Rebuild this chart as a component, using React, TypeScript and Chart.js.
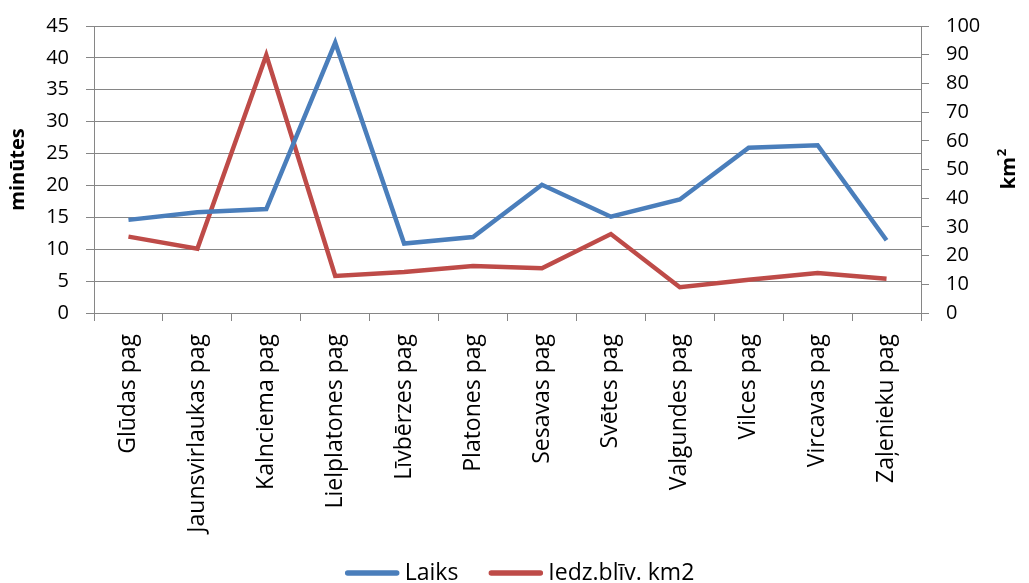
import React, { useEffect, useRef } from "react";
import { Chart, registerables } from "chart.js";

Chart.register(...registerables);

const categories = [
  "Glūdas pag",
  "Jaunsvirlaukas pag",
  "Kalnciema pag",
  "Lielplatones pag",
  "Līvbērzes pag",
  "Platones pag",
  "Sesavas pag",
  "Svētes pag",
  "Valgundes pag",
  "Vilces pag",
  "Vircavas pag",
  "Zaļenieku pag",
];

// travel time, minutes (left axis)
const laiks = [14.6, 15.8, 16.3, 42.4, 10.9, 11.9, 20.1, 15.1, 17.8, 25.9, 26.3, 11.4];
// population density per km2 (right axis)
const iedzBliv = [26.6, 22.4, 89.9, 12.9, 14.3, 16.4, 15.6, 27.5, 9.0, 11.6, 13.9, 11.9];

const leftTickValues = [0, 5, 10, 15, 20, 25, 30, 35, 40, 45];
const rightTickValues = [0, 10, 20, 30, 40, 50, 60, 70, 80, 90, 100];

const seriesNames = ["Laiks", "Iedz.blīv. km2"];
const seriesColors = ["#4a7ebb", "#be4b48"];

const FONT = "'Open Sans', sans-serif";
const AXIS_GREY = "#868686";

const axisTitles = {
  id: "axisTitles",
  afterDraw(chart: any) {
    const { ctx, chartArea } = chart;
    const cy = (chartArea.top + chartArea.bottom) / 2;
    ctx.save();
    ctx.fillStyle = "#000";
    ctx.font = `bold 20px ${FONT}`;
    ctx.textAlign = "center";
    ctx.textBaseline = "middle";
    // left title
    ctx.save();
    ctx.translate(10, cy);
    ctx.rotate(-Math.PI / 2);
    ctx.fillText("minūtes", 0, 0);
    ctx.restore();
    // right title, km with superscript 2
    ctx.save();
    ctx.translate(chart.width - 12, cy);
    ctx.rotate(-Math.PI / 2);
    const base = "km";
    const w1 = ctx.measureText(base).width;
    ctx.font = `bold 13px ${FONT}`;
    const w2 = ctx.measureText("2").width;
    const start = -(w1 + w2) / 2;
    ctx.font = `bold 20px ${FONT}`;
    ctx.textAlign = "left";
    ctx.fillText(base, start, 0);
    ctx.font = `bold 13px ${FONT}`;
    ctx.fillText("2", start + w1 + 1, -7);
    ctx.restore();
    ctx.restore();
  },
};

// bottom legend: short thick line followed by the series name
const bottomLegend = {
  id: "bottomLegend",
  afterDraw(chart: any) {
    const { ctx } = chart;
    const lineLen = 55;
    const gap = 5;
    const itemGap = 30;
    ctx.save();
    ctx.font = `23px ${FONT}`;
    const widths = seriesNames.map((n) => ctx.measureText(n).width);
    const total =
      widths.reduce((a, w) => a + lineLen + gap + w, 0) + itemGap * (seriesNames.length - 1);
    let x = chart.width / 2 + 5 - total / 2;
    const y = chart.height - 10;
    ctx.textBaseline = "alphabetic";
    ctx.textAlign = "left";
    seriesNames.forEach((name, i) => {
      ctx.strokeStyle = seriesColors[i];
      ctx.lineWidth = 5.5;
      ctx.lineCap = "round";
      ctx.beginPath();
      ctx.moveTo(x + 3, y);
      ctx.lineTo(x + lineLen - 3, y);
      ctx.stroke();
      ctx.fillStyle = "#000";
      ctx.fillText(name, x + lineLen + gap, y + 7);
      x += lineLen + gap + widths[i] + itemGap;
    });
    ctx.restore();
  },
};

const forceTicks = (values: number[]) => (scale: any) => {
  scale.ticks = values.map((v) => ({ value: v }));
};

const fixedWidth = (w: number) => (scale: any) => {
  scale.width = w;
  scale.paddingTop = 0;
  scale.paddingBottom = 0;
};

export default function App() {
  const canvasRef = useRef<HTMLCanvasElement | null>(null);

  useEffect(() => {
    if (!canvasRef.current) return;
    const chart = new Chart(canvasRef.current, {
      type: "line",
      data: {
        labels: categories,
        datasets: [
          {
            label: seriesNames[0],
            data: laiks,
            yAxisID: "y",
            borderColor: seriesColors[0],
            backgroundColor: seriesColors[0],
            borderWidth: 4.5,
            pointRadius: 0,
            tension: 0,
          },
          {
            label: seriesNames[1],
            data: iedzBliv,
            yAxisID: "y1",
            borderColor: seriesColors[1],
            backgroundColor: seriesColors[1],
            borderWidth: 4.5,
            pointRadius: 0,
            tension: 0,
          },
        ],
      },
      plugins: [axisTitles, bottomLegend],
      options: {
        animation: false,
        responsive: false,
        layout: { padding: { top: 18, bottom: 0, left: 0, right: 0 } },
        plugins: {
          tooltip: { enabled: false },
          legend: { display: false },
        },
        scales: {
          x: {
            offset: true,
            border: { display: true, color: AXIS_GREY, width: 1 },
            grid: {
              offset: true,
              drawOnChartArea: false,
              drawTicks: true,
              tickLength: 8,
              color: AXIS_GREY,
            },
            ticks: {
              autoSkip: false,
              maxRotation: 90,
              minRotation: 90,
              padding: 13,
              color: "#000",
              font: { family: FONT, size: 23 },
            },
            afterFit(scale: any) {
              scale.height = 270;
              scale.paddingLeft = 0;
              scale.paddingRight = 0;
            },
          },
          y: {
            position: "left",
            min: 0,
            max: 45,
            border: { display: true, color: AXIS_GREY, width: 1 },
            grid: { color: AXIS_GREY, tickLength: 8, lineWidth: 1 },
            afterBuildTicks: forceTicks(leftTickValues),
            ticks: {
              padding: 17,
              color: "#000",
              font: { family: FONT, size: 20 },
            },
            afterFit: fixedWidth(86),
          },
          y1: {
            position: "right",
            min: 0,
            max: 100,
            border: { display: true, color: AXIS_GREY, width: 1 },
            grid: { drawOnChartArea: false, color: AXIS_GREY, tickLength: 8 },
            afterBuildTicks: forceTicks(rightTickValues),
            ticks: {
              padding: 17,
              color: "#000",
              font: { family: FONT, size: 20 },
            },
            afterFit: fixedWidth(100),
          },
        },
      },
    });
    return () => chart.destroy();
  }, []);

  return (
    <div style={{ width: 1013, height: 575 }}>
      <canvas ref={canvasRef} width={1013} height={575} style={{ display: "block" }} />
    </div>
  );
}
